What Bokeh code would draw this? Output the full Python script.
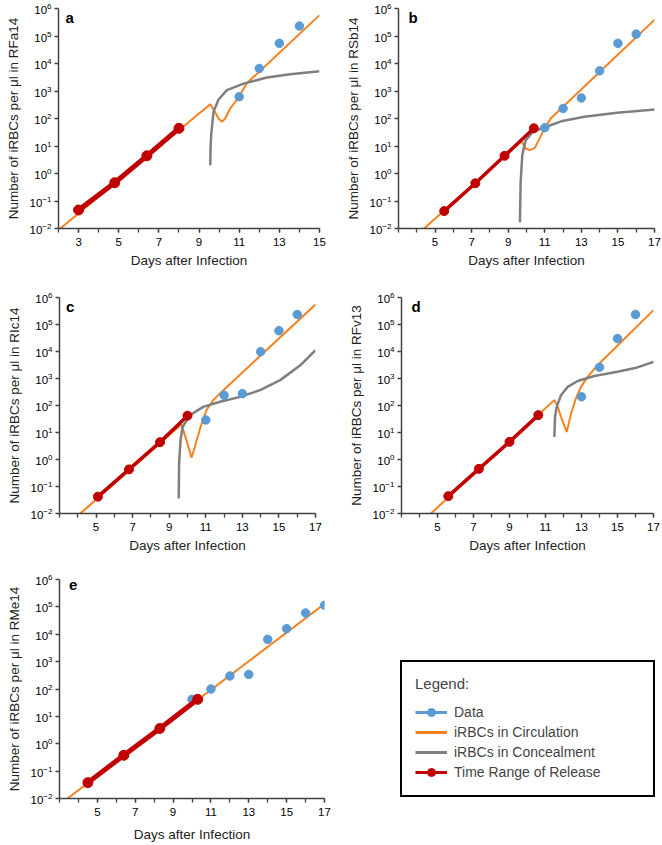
from bokeh.plotting import figure
from bokeh.models import Range1d, FixedTicker, Label, Legend, LegendItem
from bokeh.layouts import row, column
from bokeh.embed import file_html
from bokeh.resources import INLINE

FONT = "Liberation Sans"
ORANGE = "#F5821F"
GRAY = "#7F7F7F"
RED = "#C00000"
BLUE = "#5B9BD5"
AXIS = "#404040"

# ---------------- data ----------------
y_ticks = [1e-2, 1e-1, 1e0, 1e1, 1e2, 1e3, 1e4, 1e5, 1e6]
x_ticks_a = [3, 5, 7, 9, 11, 13, 15]
x_minor_a = list(range(2, 16))
x_ticks_b = [5, 7, 9, 11, 13, 15, 17]
x_minor_b = list(range(3, 18))

# Panel a - RFa14
a_red_day = [3.0, 4.8, 6.4, 8.0]
a_red_val = [0.047, 0.46, 4.4, 44]
a_data_day = [11, 12, 13, 14]
a_data_val = [620, 6600, 54000, 230000]
a_circ_day = [2.09, 9.56, 9.80, 9.97, 10.14, 10.30, 10.55, 10.97, 11.38, 15.0]
a_circ_val = [0.01, 330, 170, 100, 76, 100, 230, 580, 1900, 575000]
a_conc_day = [9.56, 9.57, 9.61, 9.72, 9.97, 10.39, 11.22, 12.38, 13.54, 15.0]
a_conc_val = [2.0, 8, 28, 174, 490, 1070, 1860, 3090, 4070, 5250]

# Panel b - RSb14
b_red_day = [5.5, 7.2, 8.8, 10.4]
b_red_val = [0.043, 0.44, 4.4, 44]
b_data_day = [11, 12, 13, 14, 15, 16]
b_data_val = [46, 230, 560, 5400, 54000, 117000]
b_circ_day = [4.40, 9.73, 9.95, 10.18, 10.45, 10.72, 11.0, 11.35, 17.04]
b_circ_val = [0.01, 15, 8.1, 7.1, 8.5, 19, 46, 105, 407000]
b_conc_day = [9.64, 9.68, 9.77, 9.95, 10.36, 10.99, 11.9, 13.16, 14.96, 17.04]
b_conc_val = [0.017, 0.5, 4.7, 16, 33, 48, 79, 115, 162, 214]

# Panel c - RIc14
c_red_day = [5.1, 6.8, 8.5, 10.0]
c_red_val = [0.042, 0.43, 4.4, 42]
c_data_day = [11, 12, 13, 14, 15, 16]
c_data_val = [29, 240, 275, 9800, 59000, 234000]
c_circ_day = [4.14, 9.67, 9.95, 10.22, 10.35, 10.5, 10.77, 11.04, 11.41, 11.96, 17.0]
c_circ_val = [0.01, 20, 5, 1.17, 2.2, 5.2, 21, 68, 158, 370, 550000]
c_conc_day = [9.52, 9.54, 9.62, 9.73, 10.13, 10.86, 11.78, 12.88, 13.97, 15.07, 16.17, 17.0]
c_conc_val = [0.036, 0.71, 5.2, 16, 44, 89, 138, 209, 372, 871, 3090, 11200]

# Panel d - RFv13
d_red_day = [5.6, 7.3, 9.0, 10.6]
d_red_val = [0.044, 0.45, 4.5, 44]
d_data_day = [13, 14, 15, 16]
d_data_val = [210, 2600, 30000, 234000]
d_circ_day = [4.63, 11.49, 11.68, 11.86, 12.18, 12.42, 12.69, 12.97, 13.34, 13.89, 17.0]
d_circ_val = [0.01, 158, 89, 38, 10.5, 50, 182, 490, 1150, 3090, 339000]
d_conc_day = [11.49, 11.53, 11.62, 11.86, 12.23, 12.79, 13.71, 15.0, 16.11, 17.03]
d_conc_val = [6.9, 38, 89, 240, 490, 810, 1230, 1780, 2570, 4170]

# Panel e - RMe14
e_red_day = [4.5, 6.4, 8.3, 10.3]
e_red_val = [0.038, 0.38, 3.6, 42]
e_data_day = [10, 11, 12, 13, 14, 15, 16, 17]
e_data_val = [42, 100, 300, 340, 6500, 16000, 60000, 115000]
e_circ_day = [3.42, 17.04]
e_circ_val = [0.01, 135000]

legend_labels = ["Data", "iRBCs in Circulation", "iRBCs in Concealment", "Time Range of Release"]


def make_panel(letter, name, xr, ticks, minor, red_day, red_val, data_day, data_val,
               circ_day, circ_val, conc_day, conc_val, red_w, red_size,
               width, height, bl, br, bt, bb, letter_x):
    p = figure(width=width, height=height, y_axis_type="log",
               x_range=Range1d(*xr), y_range=Range1d(1e-2, 1e6),
               output_backend="svg", toolbar_location=None,
               min_border_left=bl, min_border_right=br, min_border_top=bt, min_border_bottom=bb)
    p.outline_line_color = None
    p.xgrid.visible = False
    p.ygrid.visible = False
    p.xaxis.ticker = FixedTicker(ticks=ticks, minor_ticks=minor)
    p.yaxis.ticker = FixedTicker(ticks=y_ticks)
    for ax in (p.xaxis[0], p.yaxis[0]):
        ax.axis_line_color = AXIS
        ax.axis_line_width = 1.5
        ax.major_tick_line_color = AXIS
        ax.minor_tick_line_color = AXIS
        ax.major_tick_line_width = 1.3
        ax.minor_tick_line_width = 1.3
        ax.major_tick_in = 0
        ax.major_tick_out = 4
        ax.minor_tick_in = 0
        ax.minor_tick_out = 4
        ax.major_label_text_font = FONT
        ax.major_label_text_font_size = "11.5px"
        ax.major_label_text_color = "black"
        ax.axis_label_text_font = FONT
        ax.axis_label_text_font_size = "13.5px"
        ax.axis_label_text_font_style = "normal"
        ax.axis_label_text_color = "#222222"
    p.yaxis.major_label_standoff = 3
    p.xaxis.major_label_standoff = 5
    p.xaxis.axis_label_standoff = 4
    p.yaxis.axis_label_standoff = 6
    p.xaxis.axis_label = "Days after Infection"
    p.yaxis.axis_label = "Number of iRBCs per \u03bcl in " + name

    p.line(circ_day, circ_val, line_color=ORANGE, line_width=2)
    if conc_day is not None:
        p.line(conc_day, conc_val, line_color=GRAY, line_width=2.5)
    p.scatter(data_day, data_val, size=8.5, fill_color=BLUE, line_color=BLUE)
    p.line(red_day, red_val, line_color=RED, line_width=red_w)
    p.scatter(red_day, red_val, size=red_size, fill_color=RED, line_color=RED)

    p.add_layout(Label(x=letter_x, y=1e6, text=letter, text_font=FONT,
                       text_font_size="15px", text_font_style="bold",
                       text_baseline="top", text_color="black"))
    return p


pa = make_panel("a", "RFa14", (2, 15), x_ticks_a, x_minor_a, a_red_day, a_red_val,
                a_data_day, a_data_val, a_circ_day, a_circ_val, a_conc_day, a_conc_val,
                5, 10, 331, 270, 58, 12, 8, 42, 2.35)
pb = make_panel("b", "RSb14", (3, 17), x_ticks_b, x_minor_b, b_red_day, b_red_val,
                b_data_day, b_data_val, b_circ_day, b_circ_val, b_conc_day, b_conc_val,
                3.5, 9, 331, 270, 67, 8, 8, 42, 3.55)
pc = make_panel("c", "RIc14", (3, 17), x_ticks_b, x_minor_b, c_red_day, c_red_val,
                c_data_day, c_data_val, c_circ_day, c_circ_val, c_conc_day, c_conc_val,
                3.5, 9, 331, 285, 59, 16, 27, 42, 3.35)
pd_ = make_panel("d", "RFv13", (3, 17), x_ticks_b, x_minor_b, d_red_day, d_red_val,
                 d_data_day, d_data_val, d_circ_day, d_circ_val, d_conc_day, d_conc_val,
                 3.5, 9, 331, 285, 70, 9, 27, 42, 3.55)
pe = make_panel("e", "RMe14", (3, 17), x_ticks_b, x_minor_b, e_red_day, e_red_val,
                e_data_day, e_data_val, e_circ_day, e_circ_val, None, None,
                5, 10, 331, 290, 59, 7, 24, 47, 3.5)
pe.xaxis.axis_label_standoff = 8

# ---------------- legend panel ----------------
# The series are plotted outside this panel's visible range; only the legend shows.
pl = figure(width=331, height=290, x_range=Range1d(0, 1), y_range=Range1d(0, 1),
            output_backend="svg", toolbar_location=None,
            x_axis_location=None, y_axis_location=None,
            min_border_left=0, min_border_right=0, min_border_top=24, min_border_bottom=47)
pl.outline_line_color = None
pl.xgrid.visible = False
pl.ygrid.visible = False
r_dl = pl.line(e_data_day, e_data_val, line_color=BLUE, line_width=3)
r_ds = pl.scatter(e_data_day, e_data_val, size=7, fill_color=BLUE, line_color=BLUE)
r_o = pl.line(e_circ_day, e_circ_val, line_color=ORANGE, line_width=3)
r_g = pl.line(a_conc_day, a_conc_val, line_color=GRAY, line_width=3)
r_rl = pl.line(e_red_day, e_red_val, line_color=RED, line_width=3)
r_rs = pl.scatter(e_red_day, e_red_val, size=7, fill_color=RED, line_color=RED)

legend = Legend(items=[LegendItem(label=legend_labels[0], renderers=[r_dl, r_ds]),
                       LegendItem(label=legend_labels[1], renderers=[r_o]),
                       LegendItem(label=legend_labels[2], renderers=[r_g]),
                       LegendItem(label=legend_labels[3], renderers=[r_rl, r_rs])],
                location=(69, 1), title="Legend:",
                title_text_font=FONT, title_text_font_size="15px", title_text_font_style="normal",
                title_standoff=10,
                label_text_font=FONT, label_text_font_size="14px",
                border_line_color="black", border_line_width=2, border_line_alpha=1,
                background_fill_color="white", background_fill_alpha=1,
                padding=13, spacing=0, label_height=20, glyph_height=20, glyph_width=32,
                label_standoff=7, label_width=186)
pl.add_layout(legend)

layout = column(row(pa, pb), row(pc, pd_), row(pe, pl))
open("out.html", "w").write(file_html(layout, INLINE))
